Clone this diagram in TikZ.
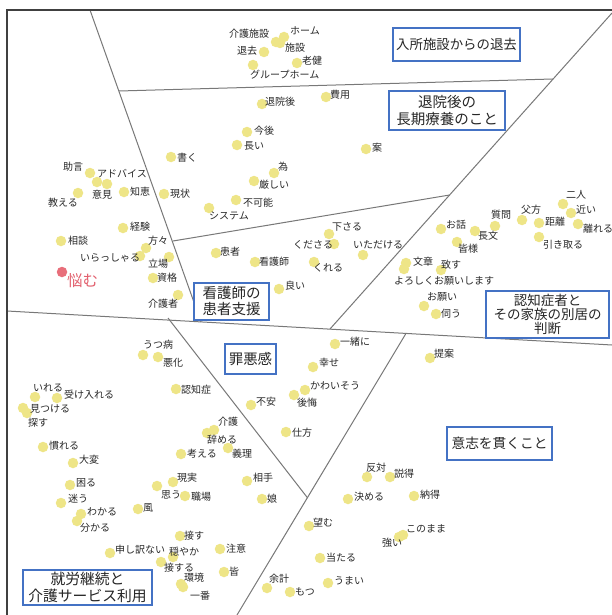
\documentclass[tikz,border=0pt]{standalone}
\usepackage{fontspec}
\setmainfont{Noto Sans CJK JP}
\definecolor{dotyel}{RGB}{238,229,135}
\definecolor{dotred}{RGB}{232,110,122}
\definecolor{txtred}{RGB}{226,96,110}
\definecolor{boxblue}{RGB}{68,114,196}
\definecolor{divgray}{RGB}{120,120,120}
\definecolor{lbltxt}{RGB}{40,40,40}
\pgfdeclarelayer{lines}
\pgfdeclarelayer{dots}
\pgfsetlayers{lines,dots,main}
\tikzset{
  dot/.style={circle,fill=dotyel,draw=none,minimum size=10.5pt,inner sep=0},
  reddot/.style={circle,fill=dotred,draw=none,minimum size=10.5pt,inner sep=0},
  lbl/.style={anchor=west,inner sep=0,text=lbltxt,font=\fontsize{10}{12}\selectfont,text height=8.8pt,text depth=1.2pt},
  divline/.style={draw=divgray,line width=1pt},
  frameline/.style={draw=black!75,line width=1.6pt},
  catbox/.style={draw=boxblue,line width=1.2pt,fill=white,inner sep=0,align=center,text=black!85}
}
\newcommand{\kwd}[4]{\begin{pgfonlayer}{dots}\node[dot] (#1) at (#2) {};\end{pgfonlayer}\node[lbl] (#1t) at (#3) {#4};}
\newcommand{\klb}[3]{\node[lbl] (#1) at (#2) {#3};}
\newcommand{\kdt}[2]{\begin{pgfonlayer}{dots}\node[dot] (#1) at (#2) {};\end{pgfonlayer}}
\begin{document}
\begin{tikzpicture}[x=1pt,y=-1pt]
\useasboundingbox (0,0) rectangle (612,615);
% dividing lines
\begin{pgfonlayer}{lines}
\fill[white] (0,0) rectangle (612,615);
\coordinate (A) at (90,10);
\coordinate (J1) at (119,91);
\coordinate (J2) at (173,241);
\coordinate (L1e) at (201,322);
\coordinate (H2e) at (553,79);
\coordinate (T3) at (612,13);
\coordinate (E3) at (330,329);
\coordinate (J4) at (449.6,195);
\coordinate (LL1) at (7,311);
\coordinate (LL2) at (612,345);
\coordinate (S7) at (168,318);
\coordinate (V) at (307.4,497.7);
\coordinate (S6) at (406,333.4);
\coordinate (E6) at (237,615);
\draw[divline] (A) -- (L1e);
\draw[divline] (J1) -- (H2e);
\draw[divline] (T3) -- (E3);
\draw[divline] (J2) -- (J4);
\draw[divline] (LL1) -- (LL2);
\draw[divline] (S6) -- (E6);
\draw[divline] (S7) -- (V);
\draw[frameline] (7,615) -- (7,10) -- (612,10);
\end{pgfonlayer}
% top region
\kwd{w1}{276,42}{229,34}{介護施設}
\kwd{w2}{284,37}{290,31}{ホーム}
\kwd{w3}{264,52}{237,51}{退去}
\kwd{w4}{280,43}{285,48}{施設}
\kwd{w5}{297,63}{302,61}{老健}
\kwd{w6}{253,65}{250,75}{グループホーム}
% discharge region
\kwd{w7}{262,104}{265,102}{退院後}
\kwd{w8}{326,97}{330,95}{費用}
\kwd{w9}{247,132}{254,131}{今後}
\kwd{w10}{237,145}{244,146}{長い}
\kwd{w11}{171,157}{177,158}{書く}
\kwd{w12}{366,149}{372,148}{案}
\kwd{w13}{274,173}{278,167}{為}
\kwd{w14}{254,181}{259,185}{厳しい}
\kwd{w15}{164,194}{170,194}{現状}
\kwd{w16}{236,200}{243,203}{不可能}
\kwd{w17}{209,208}{209,216}{システム}
% left region
\kwd{w18}{90,173}{63,167}{助言}
\kwd{w19}{97,182}{97,174}{アドバイス}
\kdt{w19b}{107,184}
\kwd{w20}{78,193}{48,203}{教える}
\klb{w21}{92,195}{意見}
\kwd{w22}{124,192}{130,192}{知恵}
\kwd{w23}{123,228}{130,227}{経験}
\kwd{w24}{61,241}{68,241}{相談}
\kwd{w25}{146,248}{148,241}{方々}
\kwd{w26}{140,256}{80,258}{いらっしゃる}
\kwd{w27}{169,257}{148,264}{立場}
\begin{pgfonlayer}{dots}\node[reddot] (w28) at (62,272) {};\end{pgfonlayer}
\node[lbl,text=txtred,font=\fontsize{15.5}{18}\selectfont,text height=13.6pt,text depth=1.9pt] (w28t) at (67,281) {悩む};
\kwd{w29}{153,278}{157,278}{資格}
\kwd{w30}{178,295}{148,304}{介護者}
% nurse region
\kwd{w31}{216,253}{220,252}{患者}
\kwd{w32}{255,262}{259,262}{看護師}
\kwd{w33}{329,234}{332,227}{下さる}
\kwd{w34}{334,244}{293,245}{くださる}
\kwd{w35}{363,255}{353,245}{いただける}
\kwd{w36}{314,262}{313,268}{くれる}
\kwd{w37}{279,289}{285,286}{良い}
% right region
\kwd{w38}{563,204}{566,195}{二人}
\kwd{w39}{571,213}{576,210}{近い}
\kwd{w40}{578,224}{583,229}{離れる}
\kwd{w41}{522,220}{521,210}{父方}
\kwd{w42}{539,223}{545,222}{距離}
\kwd{w43}{539,237}{543,245}{引き取る}
\kwd{w44}{495,226}{491,215}{質問}
\kwd{w45}{441,229}{446,225}{お話}
\kwd{w46}{475,231}{478,236}{長文}
\kwd{w47}{457,242}{458,249}{皆様}
\kwd{w48}{406,263}{413,262}{文章}
\kdt{w48b}{404,269}
\kwd{w49}{441,270}{441,265}{致す}
\klb{w50}{394,281}{よろしくお願いします}
\kwd{w51}{424,306}{427,297}{お願い}
\kwd{w52}{436,314}{441,314}{伺う}
% lower-left region
\kwd{w53}{143,355}{143,345}{うつ病}
\kwd{w54}{158,357}{163,363}{悪化}
\kwd{w55}{176,389}{181,390}{認知症}
\kwd{w56}{35,397}{33,388}{いれる}
\kwd{w57}{57,398}{64,395}{受け入れる}
\kwd{w58}{23,408}{30,409}{見つける}
\kdt{w58b}{27,413}
\klb{w59}{28,423}{探す}
\kwd{w60}{43,447}{49,446}{慣れる}
\kwd{w61}{73,463}{79,460}{大変}
\kwd{w62}{214,430}{218,422}{介護}
\kdt{w62b}{207,433}
\klb{w63}{207,440}{辞める}
\kwd{w64}{181,454}{187,454}{考える}
\kwd{w65}{228,448}{232,454}{義理}
\kwd{w66}{70,485}{76,483}{困る}
\kwd{w67}{61,503}{68,499}{迷う}
\kwd{w68}{81,514}{87,512}{わかる}
\kwd{w69}{77,521}{80,528}{分かる}
\kwd{w70}{138,509}{143,508}{風}
\kwd{w71}{173,482}{177,478}{現実}
\kwd{w72}{157,486}{161,495}{思う}
\kwd{w73}{185,496}{191,497}{職場}
\kwd{w74}{247,481}{253,478}{相手}
\kwd{w75}{262,499}{267,499}{娘}
\kwd{w76}{180,536}{184,536}{接す}
\kwd{w77}{110,553}{115,550}{申し訳ない}
\kwd{w78}{173,557}{169,552}{穏やか}
\kwd{w79}{220,549}{226,549}{注意}
\kwd{w80}{161,562}{164,568}{接する}
\kwd{w81}{181,584}{184,578}{環境}
\kwd{w82}{183,587}{190,596}{一番}
\kwd{w83}{224,572}{229,572}{皆}
\kwd{w84}{267,588}{269,579}{余計}
\kwd{w85}{290,592}{295,592}{もつ}
% guilt region
\kwd{w86}{251,405}{256,402}{不安}
\kwd{w87}{335,344}{340,342}{一緒に}
\kwd{w88}{313,367}{319,363}{幸せ}
\kwd{w89}{305,390}{310,386}{かわいそう}
\kwd{w90}{294,395}{297,403}{後悔}
\kwd{w91}{286,432}{292,433}{仕方}
% will region
\kwd{w92}{430,358}{434,354}{提案}
\kwd{w93}{367,477}{366,468}{反対}
\kwd{w94}{390,477}{394,474}{説得}
\kwd{w95}{348,499}{354,497}{決める}
\kwd{w96}{414,496}{420,495}{納得}
\kwd{w97}{309,526}{313,523}{望む}
\kwd{w98}{403,535}{406,529}{このまま}
\kdt{w98b}{399,537}
\klb{w99}{382,543}{強い}
\kwd{w100}{320,558}{326,558}{当たる}
\kwd{w101}{328,583}{334,581}{うまい}
% category boxes
\node[catbox,minimum width=127pt,minimum height=33pt,font=\fontsize{13.4}{16}\selectfont] (b1) at (456.5,44.5) {入所施設からの退去};
\node[catbox,minimum width=116pt,minimum height=39pt,font=\fontsize{14.5}{17}\selectfont] (b2) at (447,110.5) {退院後の\\長期療養のこと};
\node[catbox,minimum width=75pt,minimum height=37pt,font=\fontsize{14.5}{16}\selectfont] (b3) at (231.5,301.5) {看護師の\\患者支援};
\node[catbox,minimum width=123pt,minimum height=47pt,font=\fontsize{13.5}{13.8}\selectfont] (b4) at (547.5,314.5) {認知症者と\\その家族の別居の\\判断};
\node[catbox,minimum width=51pt,minimum height=30pt,font=\fontsize{14.4}{17}\selectfont] (b5) at (250.5,359) {罪悪感};
\node[catbox,minimum width=105pt,minimum height=33pt,font=\fontsize{13.7}{16}\selectfont] (b6) at (499.5,443.5) {意志を貫くこと};
\node[catbox,minimum width=129pt,minimum height=35pt,font=\fontsize{14.8}{17}\selectfont] (b7) at (87.5,587.5) {就労継続と\\介護サービス利用};
\end{tikzpicture}
\end{document}
